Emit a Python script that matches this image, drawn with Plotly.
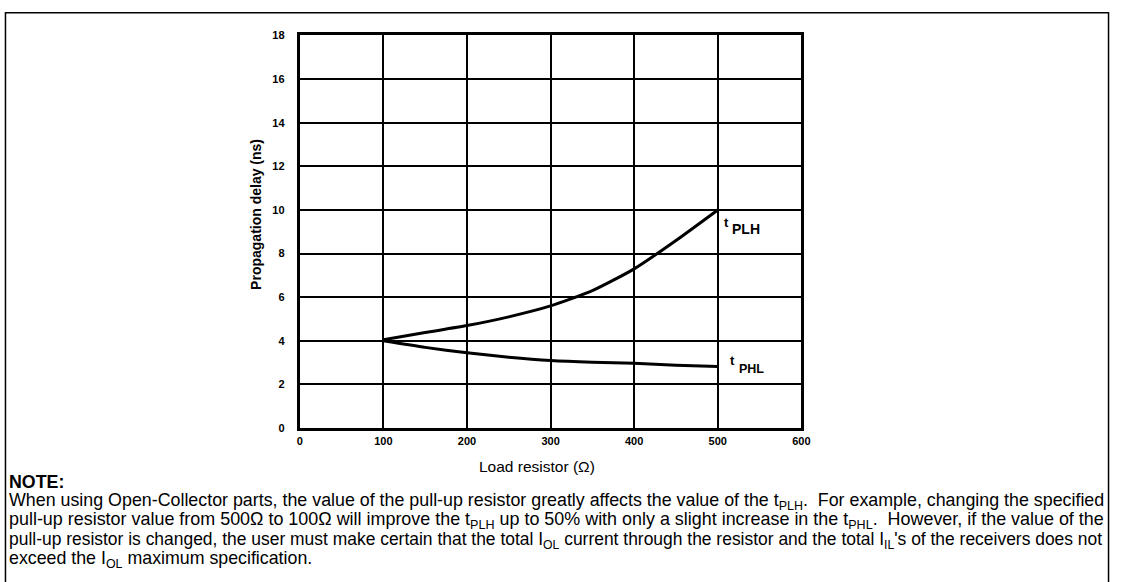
import plotly.graph_objects as go

# Data
load_resistor = [100, 150, 200, 250, 300, 350, 400, 450, 500]
t_plh = [4.05, 4.38, 4.7, 5.1, 5.6, 6.3, 7.3, 8.6, 10.0]
t_phl = [4.0, 3.7, 3.45, 3.25, 3.1, 3.02, 2.97, 2.88, 2.82]

x_ticks = [0, 100, 200, 300, 400, 500, 600]
y_ticks = [0, 2, 4, 6, 8, 10, 12, 14, 16, 18]

W, H = 1121, 582
def px(x):
    return x / W
def py(y):
    return 1 - y / H

FONT = "Liberation Sans, Arial, Helvetica, sans-serif"

fig = go.Figure()
for ys in (t_plh, t_phl):
    fig.add_trace(go.Scatter(x=load_resistor, y=ys, mode="lines",
                             line=dict(color="black", width=3, shape="spline", smoothing=0.6),
                             showlegend=False, hoverinfo="skip"))

axis_font = dict(family=FONT, size=11, color="black")
fig.update_xaxes(range=[0, 600], tickvals=x_ticks, ticktext=[f"<b>{v}</b>" for v in x_ticks],
                 showgrid=True, gridcolor="black", gridwidth=2,
                 showline=True, linecolor="black", linewidth=3, mirror=True,
                 zeroline=False, tickfont=axis_font, ticks="", ticklabelstandoff=1,
                 domain=[px(300), px(807)], fixedrange=True)
fig.update_yaxes(range=[0, 18], tickvals=y_ticks, ticktext=[f"<b>{v}</b>" for v in y_ticks],
                 showgrid=True, gridcolor="black", gridwidth=2,
                 showline=True, linecolor="black", linewidth=3, mirror=True,
                 zeroline=False, tickfont=axis_font, ticks="", ticklabelstandoff=10,
                 domain=[py(431), py(30)], fixedrange=True)

def note(x, y, text, font, xanchor="left", yanchor="middle", **kw):
    return dict(x=px(x), y=py(y), xref="paper", yref="paper", text=text, showarrow=False,
                xanchor=xanchor, yanchor=yanchor, font=font, **kw)

ann = []
ann.append(note(255, 213, "<b>Propagation delay (ns)</b>", dict(family=FONT, size=14, color="black"),
                xanchor="center", textangle=-90))
ann.append(note(540, 470, "Load resistor (Ω)", dict(family=FONT, size=15.5, color="black"),
                xanchor="center"))
# curve labels
ann.append(note(727, 221, "<b>t</b>", dict(family=FONT, size=13, color="black")))
ann.append(note(735, 228, "<b>PLH</b>", dict(family=FONT, size=14, color="black")))
ann.append(note(733, 362, "<b>t</b>", dict(family=FONT, size=13, color="black")))
ann.append(note(742, 371, "<b>PHL</b>", dict(family=FONT, size=12.5, color="black")))

BASE = 17.8
ann.append(note(4, 486, "<b>NOTE:</b>", dict(family=FONT, size=BASE, color="black")))
note_lines = [
    "When using Open-Collector parts, the value of the pull-up resistor greatly affects the value of the t<sub>PLH</sub>.  For example, changing the specified",
    "pull-up resistor value from 500Ω to 100Ω will improve the t<sub>PLH</sub> up to 50% with only a slight increase in the t<sub>PHL</sub>.  However, if the value of the",
    "pull-up resistor is changed, the user must make certain that the total I<sub>OL</sub> current through the resistor and the total I<sub>IL</sub>'s of the receivers does not",
    "exceed the I<sub>OL</sub> maximum specification.",
]
# slightly different sizes per line emulate the justified paragraph of the original
line_sizes = [17.84, 17.93, 17.45, BASE]
for i, (line, sz) in enumerate(zip(note_lines, line_sizes)):
    center = 505 + i * 19.5
    ann.append(note(4, center - 0.65 * sz - 1, line, dict(family=FONT, size=sz, color="black"),
                    yanchor="top"))

shapes = [dict(type="rect", xref="paper", yref="paper", x0=px(2.5), x1=px(1117.5), y0=-0.02, y1=py(7),
               line=dict(color="black", width=1.5), fillcolor="rgba(0,0,0,0)")]

fig.update_layout(width=W, height=H, margin=dict(l=0, r=0, t=0, b=0),
                  plot_bgcolor="white", paper_bgcolor="white",
                  annotations=ann, shapes=shapes)
fig.write_html("out.html", config={"displayModeBar": False, "staticPlot": True},
               post_script="document.body.style.margin='0';document.body.style.overflow='hidden';")
